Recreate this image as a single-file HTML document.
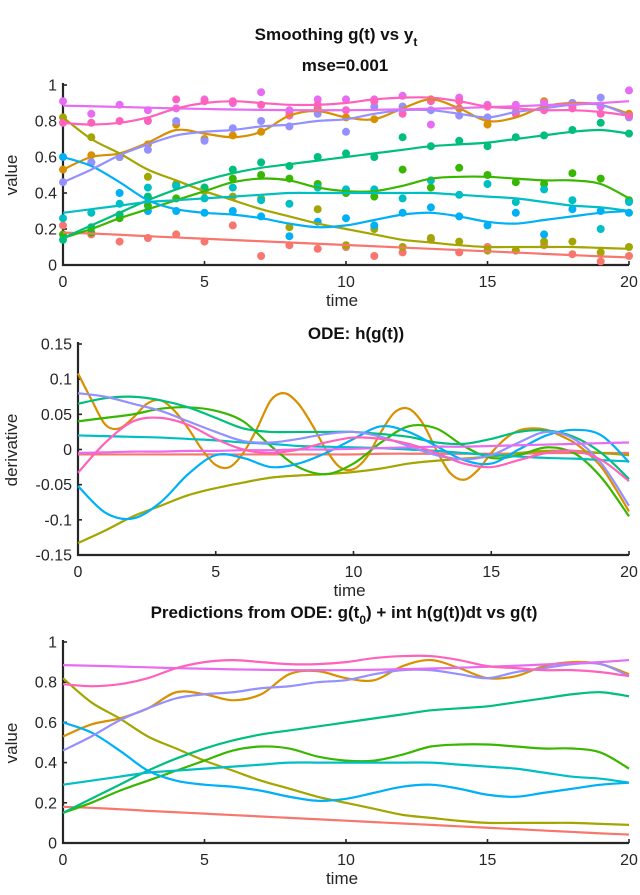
<!DOCTYPE html>
<html><head><meta charset="utf-8"><style>
html,body{margin:0;padding:0;background:#fff;}
svg{display:block;font-family:"Liberation Sans",sans-serif;}
</style></head><body>
<svg id="fig" width="640" height="895" viewBox="0 0 640 895" xmlns="http://www.w3.org/2000/svg"></svg>
<script>
const colors = ["#F8766D","#D89000","#A3A500","#39B600","#00BF7D","#00BFC4","#00B0F6","#9590FF","#E76BF3","#FF62BC"];
const seriesNames = ["red","orange","olive","green","teal-green","cyan","blue","purple","magenta","pink"];
const time = [0,1,2,3,4,5,6,7,8,9,10,11,12,13,14,15,16,17,18,19,20];
const timeFine = [0,0.5,1,1.5,2,2.5,3,3.5,4,4.5,5,5.5,6,6.5,7,7.5,8,8.5,9,9.5,10,10.5,11,11.5,12,12.5,13,13.5,14,14.5,15,15.5,16,16.5,17,17.5,18,18.5,19,19.5,20];
const xTicks = [0,5,10,15,20];
const valueTicks = [0,0.2,0.4,0.6,0.8,1];
const valueTickLabels = ["0","0.2","0.4","0.6","0.8","1"];
const derivTicks = [-0.15,-0.1,-0.05,0,0.05,0.1,0.15];
const derivTickLabels = ["-0.15","-0.1","-0.05","0","0.05","0.1","0.15"];

// smoothed g(t)
const gRed     = [0.18,0.175,0.168,0.16,0.153,0.146,0.139,0.132,0.125,0.118,0.111,0.104,0.097,0.09,0.083,0.076,0.069,0.062,0.055,0.048,0.042];
const gOrange  = [0.53,0.6,0.62,0.68,0.75,0.73,0.71,0.74,0.83,0.855,0.82,0.81,0.87,0.92,0.87,0.8,0.82,0.88,0.9,0.89,0.84];
const gOlive   = [0.82,0.7,0.62,0.53,0.47,0.41,0.36,0.31,0.27,0.23,0.2,0.17,0.14,0.125,0.11,0.1,0.1,0.1,0.1,0.095,0.09];
const gGreen   = [0.15,0.2,0.26,0.31,0.36,0.41,0.46,0.48,0.47,0.43,0.41,0.41,0.44,0.48,0.49,0.49,0.48,0.47,0.47,0.45,0.37];
const gTeal    = [0.15,0.22,0.29,0.36,0.42,0.47,0.51,0.54,0.56,0.58,0.6,0.62,0.64,0.66,0.67,0.68,0.7,0.72,0.74,0.75,0.73];
const gCyan    = [0.29,0.31,0.33,0.35,0.36,0.37,0.38,0.39,0.4,0.4,0.4,0.4,0.4,0.4,0.39,0.38,0.37,0.35,0.33,0.32,0.3];
const gBlue    = [0.6,0.55,0.46,0.36,0.31,0.29,0.28,0.26,0.23,0.21,0.22,0.25,0.28,0.29,0.27,0.24,0.23,0.25,0.27,0.29,0.3];
const gPurple  = [0.46,0.53,0.61,0.67,0.72,0.74,0.75,0.77,0.78,0.8,0.81,0.84,0.86,0.86,0.84,0.82,0.85,0.87,0.89,0.89,0.83];
const gMagenta = [0.885,0.882,0.878,0.874,0.87,0.867,0.864,0.862,0.86,0.86,0.86,0.862,0.865,0.868,0.872,0.877,0.882,0.888,0.894,0.9,0.91];
const gPink    = [0.79,0.78,0.79,0.82,0.87,0.9,0.91,0.9,0.89,0.89,0.9,0.92,0.93,0.93,0.91,0.88,0.87,0.86,0.86,0.85,0.83];

// observations y_t
const yRed     = [0.22,0.17,0.13,0.15,0.17,0.13,0.22,0.05,0.11,0.09,0.10,0.05,0.07,0.14,0.07,0.10,0.08,0.11,0.06,0.02,0.05];
const yOrange  = [0.53,0.61,0.6,0.67,0.78,0.7,0.72,0.74,0.85,0.87,0.82,0.81,0.88,0.92,0.87,0.78,0.84,0.91,0.9,0.88,0.84];
const yOlive   = [0.82,0.71,0.6,0.49,0.45,0.41,0.38,0.37,0.21,0.31,0.11,0.2,0.1,0.15,0.13,0.08,0.08,0.13,0.13,0.07,0.1];
const yGreen   = [0.17,0.18,0.26,0.33,0.37,0.43,0.48,0.5,0.48,0.45,0.4,0.38,0.53,0.43,0.54,0.5,0.46,0.45,0.51,0.48,0.36];
const yTeal    = [0.14,0.21,0.28,0.38,0.44,0.43,0.53,0.57,0.55,0.6,0.62,0.6,0.71,0.66,0.69,0.66,0.71,0.72,0.75,0.79,0.73];
const yCyan    = [0.26,0.29,0.34,0.43,0.44,0.37,0.43,0.36,0.34,0.43,0.42,0.42,0.37,0.47,0.39,0.45,0.35,0.42,0.36,0.2,0.35];
const yBlue    = [0.6,0.57,0.4,0.3,0.3,0.29,0.3,0.27,0.16,0.24,0.26,0.22,0.29,0.32,0.27,0.22,0.29,0.17,0.31,0.3,0.29];
const yPurple  = [0.46,0.57,0.6,0.64,0.8,0.69,0.76,0.8,0.77,0.84,0.74,0.88,0.88,0.86,0.83,0.82,0.85,0.87,0.9,0.93,0.82];
const yMagenta = [0.91,0.84,0.89,0.86,0.87,0.92,0.9,0.96,0.86,0.92,0.92,0.92,0.94,0.78,0.93,0.89,0.89,0.9,0.88,0.88,0.97];
const yPink    = [0.79,0.79,0.8,0.8,0.92,0.91,0.91,0.89,0.83,0.89,0.86,0.91,0.84,0.91,0.91,0.88,0.84,0.86,0.87,0.84,0.83];

// derivatives h(g(t))
const hRed     = [-0.007,-0.007,-0.007,-0.007,-0.007,-0.007,-0.007,-0.007,-0.007,-0.007,-0.007,-0.006,-0.006,-0.006,-0.006,-0.006,-0.006,-0.005,-0.005,-0.005,-0.005];
const hOrangeFine = [0.108,0.07,0.035,0.03,0.045,0.065,0.07,0.055,0.03,0.0,-0.022,-0.025,-0.005,0.03,0.07,0.08,0.065,0.035,0.0,-0.025,-0.028,-0.01,0.025,0.053,0.058,0.038,0.0,-0.033,-0.043,-0.03,-0.005,0.015,0.027,0.03,0.028,0.02,0.01,-0.005,-0.025,-0.055,-0.088];
const hOlive   = [-0.133,-0.115,-0.095,-0.08,-0.065,-0.055,-0.047,-0.04,-0.037,-0.035,-0.032,-0.027,-0.02,-0.016,-0.013,-0.01,-0.005,-0.002,-0.002,-0.005,-0.008];
const hGreen   = [0.04,0.045,0.05,0.058,0.06,0.055,0.04,0.005,-0.025,-0.035,-0.02,0.01,0.033,0.03,0.005,-0.012,-0.008,0.003,-0.005,-0.04,-0.095];
const hTeal    = [0.065,0.073,0.075,0.07,0.06,0.045,0.03,0.025,0.025,0.025,0.025,0.022,0.018,0.01,0.008,0.015,0.025,0.027,0.018,-0.005,-0.042];
const hCyan    = [0.02,0.019,0.018,0.017,0.015,0.013,0.01,0.008,0.005,0.004,0.003,0.002,0.0,-0.002,-0.005,-0.008,-0.01,-0.012,-0.013,-0.015,-0.017];
const hBlue    = [-0.052,-0.09,-0.098,-0.075,-0.035,-0.008,-0.012,-0.025,-0.02,-0.005,0.015,0.033,0.025,0.005,-0.015,-0.02,0.0,0.02,0.028,0.02,-0.018];
const hPurple  = [0.08,0.075,0.065,0.055,0.04,0.025,0.012,0.01,0.015,0.022,0.025,0.018,0.005,-0.008,-0.014,-0.008,0.01,0.025,0.015,-0.02,-0.08];
const hMagenta = [-0.005,-0.004,-0.003,-0.003,-0.002,-0.002,-0.001,-0.001,0,0,0.001,0.002,0.003,0.004,0.004,0.005,0.006,0.007,0.008,0.009,0.01];
const hPink    = [-0.033,0.01,0.04,0.045,0.035,0.015,0.0,-0.005,0.0,0.01,0.017,0.015,0.008,-0.005,-0.02,-0.025,-0.015,-0.005,-0.002,-0.015,-0.045];

// ODE predictions
const pRed     = gRed.slice();
const pOrange  = [0.53,0.59,0.62,0.67,0.75,0.74,0.71,0.74,0.84,0.855,0.82,0.81,0.88,0.91,0.87,0.82,0.83,0.88,0.9,0.89,0.84];
const pOlive   = gOlive.slice();
const pGreen   = gGreen.slice();
const pTeal    = gTeal.slice();
const pCyan    = gCyan.slice();
const pBlue    = gBlue.slice();
const pPurple  = gPurple.slice();
const pMagenta = gMagenta.slice();
const pPink    = gPink.slice();

const NS = "http://www.w3.org/2000/svg";
const svg = document.getElementById("fig");
function mk(tag, attrs, parent){const e=document.createElementNS(NS,tag);for(const k in attrs)e.setAttribute(k,attrs[k]);(parent||svg).appendChild(e);return e;}

function makeAxes(cfg){
  const g = mk("g",{});
  
  
  const sx = t => cfg.x0 + (t - 0) / 20 * (cfg.x1 - cfg.x0);
  const sy = v => cfg.yb - (v - cfg.vmin) / (cfg.vmax - cfg.vmin) * (cfg.yb - cfg.yt);
  return {g, sx, sy, cfg};
}
function drawFrame(ax, yTicks, yLabels, yTitle, yTitleY){
  const {g,sx,sy,cfg} = ax;
  const fr = mk("g",{},g);
  
  
  mk("path",{d:`M${cfg.x0} ${cfg.yt-2} V${cfg.yb} H${cfg.x1}`,fill:"none",stroke:"#262626","stroke-width":2.2},fr);
  yTicks.forEach((v,i)=>{
    const y=sy(v);
    mk("line",{x1:cfg.x0,x2:cfg.x0+4,y1:y,y2:y,stroke:"#262626","stroke-width":1.6},fr);
    const t=mk("text",{x:cfg.x0-6,y:y+5.5,"text-anchor":"end","font-size":16,fill:"#262626"},fr);
    t.textContent=yLabels[i];
    
    
  });
  xTicks.forEach(v=>{
    const x=sx(v);
    mk("line",{x1:x,x2:x,y1:cfg.yb,y2:cfg.yb-4,stroke:"#262626","stroke-width":1.6},fr);
    const t=mk("text",{x:x,y:cfg.yb+22,"text-anchor":"middle","font-size":16,fill:"#262626"},fr);
    t.textContent=String(v);
    
    
  });
  const xt=mk("text",{x:(cfg.x0+cfg.x1)/2-4,y:cfg.yb+41,"text-anchor":"middle","font-size":17,fill:"#262626"},fr);
  xt.textContent="time";
  
  
  const yt=mk("text",{x:0,y:0,"text-anchor":"middle","font-size":17,fill:"#262626",transform:`translate(17 ${yTitleY}) rotate(-90)`},fr);
  yt.textContent=yTitle;
  
  
}
function pathFor(ax, ts, vs){
  const pts = ts.map((t,i)=>[ax.sx(t), ax.sy(vs[i])]);
  let d = `M${pts[0][0].toFixed(2)} ${pts[0][1].toFixed(2)}`;
  for(let i=0;i<pts.length-1;i++){
    const p0=pts[Math.max(0,i-1)],p1=pts[i],p2=pts[i+1],p3=pts[Math.min(pts.length-1,i+2)];
    const c1=[p1[0]+(p2[0]-p0[0])/6,p1[1]+(p2[1]-p0[1])/6];
    const c2=[p2[0]-(p3[0]-p1[0])/6,p2[1]-(p3[1]-p1[1])/6];
    d+=` C${c1[0].toFixed(2)} ${c1[1].toFixed(2)} ${c2[0].toFixed(2)} ${c2[1].toFixed(2)} ${p2[0].toFixed(2)} ${p2[1].toFixed(2)}`;
  }
  return d;
}
function drawLine(ax, ts, vs, color, name){
  const p = mk("path",{d:pathFor(ax,ts,vs),fill:"none",stroke:color,"stroke-width":2.2,"stroke-linejoin":"round"},ax.g);
  
  
}
function drawDots(ax, ts, vs, color, name){
  ts.forEach((t,i)=>{
    const c = mk("circle",{cx:ax.sx(t),cy:ax.sy(vs[i]),r:4,fill:color},ax.g);
    
    
  });
}
function title(txt, y, name, sub){
  const t=mk("text",{x:345,y:y,"text-anchor":"middle","font-size":17,"font-weight":"bold",fill:"#111"});
  
  
  return t;
}

// Titles
const t1=title("",40,"chart-title-smoothing");
t1.setAttribute("x","336");
t1.innerHTML='Smoothing g(t) vs y<tspan dy="6" font-size="12">t</tspan>';
const t1b=title("",71,"chart-subtitle-mse");
t1b.textContent="mse=0.001";
const t2=title("",339,"chart-title-ode");
t2.setAttribute("x","356");
t2.textContent="ODE: h(g(t))";
const t3=title("",618,"chart-title-predictions");
t3.setAttribute("x","344");
t3.innerHTML='Predictions from ODE: g(t<tspan dy="6" font-size="12">0</tspan><tspan dy="-6">) + int h(g(t))dt vs g(t)</tspan>';

// Panel 1
const ax1 = makeAxes({name:"smoothing-plot",x0:63,x1:629,yt:85,yb:265,vmin:0,vmax:1});
const gAll=[gRed,gOrange,gOlive,gGreen,gTeal,gCyan,gBlue,gPurple,gMagenta,gPink];
const yAll=[yRed,yOrange,yOlive,yGreen,yTeal,yCyan,yBlue,yPurple,yMagenta,yPink];
drawFrame(ax1,valueTicks,valueTickLabels,"value",175);
yAll.forEach((v,i)=>drawDots(ax1,time,v,colors[i],"observation-"+seriesNames[i]));
gAll.forEach((v,i)=>drawLine(ax1,time,v,colors[i],"smooth-line-"+seriesNames[i]));

// Panel 2
const ax2 = makeAxes({name:"derivative-plot",x0:78,x1:629,yt:344,yb:555,vmin:-0.15,vmax:0.15});
drawFrame(ax2,derivTicks,derivTickLabels,"derivative",450);
const hAll=[hRed,null,hOlive,hGreen,hTeal,hCyan,hBlue,hPurple,hMagenta,hPink];
hAll.forEach((v,i)=>{ if(v) drawLine(ax2,time,v,colors[i],"derivative-line-"+seriesNames[i]); else drawLine(ax2,timeFine,hOrangeFine,colors[i],"derivative-line-orange"); });

// Panel 3
const ax3 = makeAxes({name:"prediction-plot",x0:63,x1:629,yt:642,yb:843,vmin:0,vmax:1});
drawFrame(ax3,valueTicks,valueTickLabels,"value",743);
const pAll=[pRed,pOrange,pOlive,pGreen,pTeal,pCyan,pBlue,pPurple,pMagenta,pPink];
pAll.forEach((v,i)=>drawLine(ax3,time,v,colors[i],"prediction-line-"+seriesNames[i]));
</script>
</body></html>
